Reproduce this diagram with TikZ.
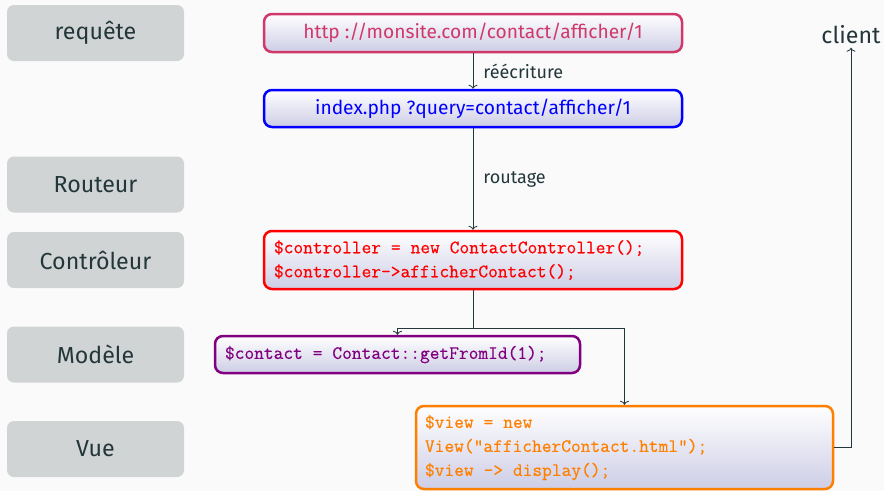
\documentclass[tikz,border=0pt]{standalone}
\usepackage{fontspec}
\setmainfont{Fira Sans}
\newfontfamily\codefam{Latin Modern Mono}[FakeBold=0.5, WordSpace={1,0,0}]
\usetikzlibrary{arrows.meta}
\definecolor{mbg}{HTML}{FAFAFA}
\definecolor{mdark}{HTML}{23373B}
\definecolor{mgray}{HTML}{D1D4D4}
\definecolor{mpurple}{HTML}{D0386A}
\definecolor{mviolet}{HTML}{800080}
\definecolor{morange}{HTML}{FF8000}
\definecolor{lav}{HTML}{CDCDE6}
\newcommand\ws{\hspace*{0.525em}}
\newcommand\codefont{\fontsize{18.9}{24}\selectfont\codefam}
\tikzset{
  layer/.style={fill=mgray, rounded corners=7pt, minimum width=177pt, minimum height=56pt, text=mdark, font=\fontsize{23.2}{28}\selectfont, inner sep=0pt},
  stepbox/.style={rounded corners=8pt, line width=2.5pt, top color=white, bottom color=lav, inner sep=0pt, font=\fontsize{19.2}{23}\selectfont},
  codebox/.style={stepbox, inner xsep=10pt, inner ysep=0pt, align=left, font=\codefont},
  conn/.style={draw=mdark, line width=0.8pt, -{To[length=4pt,width=9pt]}},
  plain/.style={draw=mdark, line width=0.8pt},
  lab/.style={text=mdark, font=\fontsize{18}{22}\selectfont, inner sep=0pt, xshift=10pt}
}
\begin{document}
\begin{tikzpicture}[x=1pt,y=-1pt]
\fill[mbg] (0,0) rectangle (884,491);
\useasboundingbox (0,0) rectangle (884,491);
\node[layer] (l1) at (95.5,33) {requête};
\node[layer] (l2) at (95.5,184.5) {Routeur};
\node[layer] (l3) at (95.5,260) {Contrôleur};
\node[layer] (l4) at (95.5,354.5) {Modèle};
\node[layer] (l5) at (95.5,449) {Vue};

\node[stepbox, draw=mpurple, text=mpurple, minimum width=418pt, minimum height=38pt] (url) at (473,33) {http ://monsite.com/contact/afficher/1};
\node[stepbox, draw=blue, text=blue, minimum width=418pt, minimum height=37pt] (idx) at (473,108.5) {index.php ?query=contact/afficher/1};
\node[codebox, draw=red, text=red, text width=398pt, minimum height=58pt] (ctrl) at (473,260) {\$controller\ws=\ws{}new\ws{}ContactController();\\\$controller->afficherContact();};
\node[codebox, draw=mviolet, text=mviolet, text width=345pt, minimum height=37pt] (model) at (397.5,354.5) {\$contact\ws=\ws{}Contact::getFromId(1);};
\node[codebox, draw=morange, text=morange, inner xsep=9pt, text width=399pt, minimum height=83pt] (view) at (624.5,447.5) {\$view\ws=\ws{}new\\View("afficherContact.html");\\\$view\ws->\ws{}display();};

\node[text=mdark, font=\fontsize{23.2}{28}\selectfont] (client) at (851,35) {client};

\draw[conn] (url) -- node[right, lab] {réécriture} (idx);
\draw[conn] (idx) -- node[right, lab] {routage} (ctrl);
\coordinate (split) at (473,328);
\draw[plain] (ctrl.south) -- (split);
\draw[conn] (split) -| (model.north);
\draw[conn] (split) -| (view.north);
\draw[conn] (view.east) -| (client.south);
\end{tikzpicture}
\end{document}
